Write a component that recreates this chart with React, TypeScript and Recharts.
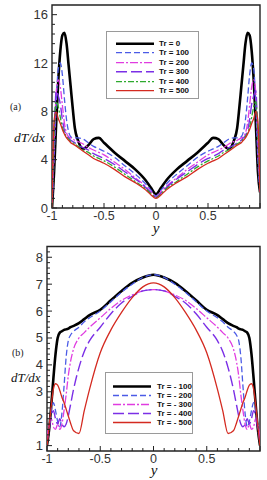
import React from 'react';
import { LineChart, Line, XAxis, YAxis, ReferenceArea, Legend } from 'recharts';

// ---------- Panel (a) ----------
const XA = [
  -1, -0.98, -0.96, -0.94, -0.92, -0.9, -0.88, -0.86, -0.84, -0.82, -0.8, -0.78, -0.75, -0.7, -0.65, -0.6, -0.55, -0.5, -0.4, -0.3, -0.2, -0.1, -0.05, 0,
  0.05, 0.1, 0.2, 0.3, 0.4, 0.5, 0.55, 0.6, 0.65, 0.7, 0.75, 0.78, 0.8, 0.82, 0.84, 0.86, 0.88, 0.9, 0.92, 0.94, 0.96, 0.98, 1,
];
const A_TR0 = [
  0, 3, 7, 10.5, 13, 14.3, 14.5, 13.6, 11.8, 10, 8.2, 6.6, 5.6, 4.9, 5.2, 5.7, 5.8, 5.4, 4.6, 3.9, 3.2, 2.3, 1.7, 1.15,
  1.7, 2.3, 3.2, 3.9, 4.6, 5.4, 5.8, 5.7, 5.2, 4.9, 5.6, 6.6, 8.2, 10, 11.8, 13.6, 14.5, 14.3, 13, 10.5, 7, 3, 1.3,
];
const A_TR100 = [
  0, 4, 8.5, 11.5, 12, 11, 9, 7.3, 6.3, 5.9, 5.8, 5.8, 5.8, 5.7, 5.4, 5.1, 4.9, 4.7, 4.2, 3.5, 2.8, 2.0, 1.5, 1.0,
  1.5, 2.0, 2.8, 3.5, 4.2, 4.7, 4.9, 5.1, 5.4, 5.7, 5.8, 5.8, 5.8, 5.9, 6.3, 7.3, 9, 11, 12, 11.5, 8.5, 4, 1.3,
];
const A_TR200 = [
  0, 5, 9.5, 10.6, 10, 8.5, 7, 6.2, 5.9, 5.8, 5.7, 5.6, 5.5, 5.3, 5.0, 4.8, 4.6, 4.4, 3.8, 3.2, 2.5, 1.8, 1.35, 0.95,
  1.35, 1.8, 2.5, 3.2, 3.8, 4.4, 4.6, 4.8, 5.0, 5.3, 5.5, 5.6, 5.7, 5.8, 5.9, 6.2, 7, 8.5, 10, 10.6, 9.5, 5, 1.3,
];
const A_TR300 = [
  0, 5.5, 9.7, 9.3, 8.6, 7.3, 6.4, 6.0, 5.8, 5.6, 5.5, 5.4, 5.2, 5.0, 4.8, 4.5, 4.3, 4.1, 3.6, 3.0, 2.4, 1.7, 1.25, 0.9,
  1.25, 1.7, 2.4, 3.0, 3.6, 4.1, 4.3, 4.5, 4.8, 5.0, 5.2, 5.4, 5.5, 5.6, 5.8, 6.0, 6.4, 7.3, 8.6, 9.3, 9.7, 5.5, 1.3,
];
const A_TR400 = [
  0, 6, 8.8, 8.4, 7.5, 6.7, 6.2, 5.9, 5.7, 5.5, 5.4, 5.3, 5.1, 4.8, 4.6, 4.3, 4.1, 3.9, 3.4, 2.8, 2.2, 1.6, 1.2, 0.85,
  1.2, 1.6, 2.2, 2.8, 3.4, 3.9, 4.1, 4.3, 4.6, 4.8, 5.1, 5.3, 5.4, 5.5, 5.7, 5.9, 6.2, 6.7, 7.5, 8.4, 8.8, 6, 1.3,
];
const A_TR500 = [
  0, 7.2, 8.0, 7.4, 7.0, 6.5, 6.1, 5.8, 5.6, 5.4, 5.3, 5.2, 5.0, 4.7, 4.4, 4.1, 3.9, 3.7, 3.2, 2.6, 2.1, 1.5, 1.1, 0.8,
  1.1, 1.5, 2.1, 2.6, 3.2, 3.7, 3.9, 4.1, 4.4, 4.7, 5.0, 5.2, 5.3, 5.4, 5.6, 5.8, 6.1, 6.5, 7.0, 7.4, 8.0, 7.2, 1.3,
];
const A_LABELS = ['Tr = 0', 'Tr = 100', 'Tr = 200', 'Tr = 300', 'Tr = 400', 'Tr = 500'];
const A_X_TICKS = [-1, -0.9, -0.8, -0.7, -0.6, -0.5, -0.4, -0.3, -0.2, -0.1, 0, 0.1, 0.2, 0.3, 0.4, 0.5, 0.6, 0.7, 0.8, 0.9, 1];
const A_X_LABELS = [-1, -0.5, 0, 0.5];
const A_Y_TICKS = [0, 0.8, 1.6, 2.4, 3.2, 4, 4.8, 5.6, 6.4, 7.2, 8, 8.8, 9.6, 10.4, 11.2, 12, 12.8, 13.6, 14.4, 15.2, 16];
const A_Y_LABELS = [0, 4, 8, 12, 16];

// ---------- Panel (b) ----------
const XB = [
  -1, -0.98, -0.96, -0.94, -0.92, -0.9, -0.88, -0.86, -0.84, -0.82, -0.8, -0.78, -0.75, -0.7, -0.65, -0.6, -0.5, -0.4, -0.3, -0.2, -0.1, 0,
  0.1, 0.2, 0.3, 0.4, 0.5, 0.6, 0.65, 0.7, 0.75, 0.78, 0.8, 0.82, 0.84, 0.86, 0.88, 0.9, 0.92, 0.94, 0.96, 0.98, 1,
];
const B_TR100 = [
  1.0, 1.6, 2.5, 3.5, 4.4, 5.0, 5.2, 5.25, 5.3, 5.32, 5.35, 5.4, 5.45, 5.55, 5.7, 5.85, 6.05, 6.4, 6.75, 7.05, 7.25, 7.35,
  7.25, 7.05, 6.75, 6.4, 6.05, 5.85, 5.7, 5.55, 5.45, 5.4, 5.35, 5.32, 5.3, 5.25, 5.2, 5.0, 4.4, 3.5, 2.5, 1.6, 1.0,
];
const B_TR200 = [
  1.2, 1.7, 2.3, 2.6, 2.3, 1.9, 1.7, 2.2, 3.2, 4.3, 4.9, 5.1, 5.25, 5.4, 5.6, 5.75, 6.0, 6.35, 6.7, 7.0, 7.25, 7.35,
  7.25, 7.0, 6.7, 6.35, 6.0, 5.75, 5.6, 5.4, 5.25, 5.1, 4.9, 4.3, 3.2, 2.2, 1.7, 1.9, 2.3, 2.6, 2.3, 1.7, 1.2,
];
const B_TR300 = [
  1.3, 1.8, 2.0, 1.7, 1.6, 1.8, 1.6, 1.8, 2.3, 2.9, 3.6, 4.1, 4.6, 5.0, 5.2, 5.4, 5.75, 6.1, 6.4, 6.6, 6.75, 6.8,
  6.75, 6.6, 6.4, 6.1, 5.75, 5.4, 5.2, 5.0, 4.6, 4.1, 3.6, 2.9, 2.3, 1.8, 1.6, 1.8, 1.6, 1.7, 2.0, 1.8, 1.3,
];
const B_TR400 = [
  1.1, 1.6, 2.1, 2.3, 2.0, 1.8, 2.0, 1.8, 1.7, 1.8, 2.1, 2.5, 3.1, 3.9, 4.5, 4.9, 5.4, 5.9, 6.3, 6.55, 6.75, 6.8,
  6.75, 6.55, 6.3, 5.9, 5.4, 4.9, 4.5, 3.9, 3.1, 2.5, 2.1, 1.8, 1.7, 1.8, 2.0, 1.8, 2.0, 2.3, 2.1, 1.6, 1.1,
];
const B_TR500 = [
  1.0, 1.7, 2.5, 3.1, 3.3, 3.25, 3.05, 2.8, 2.6, 2.35, 2.1, 1.85, 1.55, 1.45, 2.3, 3.1, 4.45, 5.3, 5.95, 6.5, 6.9, 7.05,
  6.9, 6.5, 5.95, 5.3, 4.45, 3.1, 2.3, 1.45, 1.55, 1.85, 2.1, 2.35, 2.6, 2.8, 3.05, 3.25, 3.3, 3.1, 2.5, 1.7, 1.0,
];
const B_LABELS = ['Tr = - 100', 'Tr = - 200', 'Tr = - 300', 'Tr = - 400', 'Tr = - 500'];
const B_X_TICKS = A_X_TICKS;
const B_X_LABELS = [-1, -0.5, 0, 0.5];
const B_Y_TICKS = [1, 1.2, 1.4, 1.6, 1.8, 2, 2.2, 2.4, 2.6, 2.8, 3, 3.2, 3.4, 3.6, 3.8, 4, 4.2, 4.4, 4.6, 4.8, 5, 5.2, 5.4, 5.6, 5.8, 6, 6.2, 6.4, 6.6, 6.8, 7, 7.2, 7.4, 7.6, 7.8, 8, 8.2];
const B_Y_LABELS = [1, 2, 3, 4, 5, 6, 7, 8];

// ---------- styles ----------
const STYLES = [
  { color: '#000000', width: 2.6, dash: undefined },
  { color: '#4b5be6', width: 1.3, dash: '6 3' },
  { color: '#e03ce0', width: 1.3, dash: '8 2 2 2' },
  { color: '#7b2fe6', width: 1.4, dash: '11 4' },
  { color: '#2eaa2e', width: 1.3, dash: '6 2 2 2' },
  { color: '#d42a20', width: 1.3, dash: undefined },
];
const STYLES_B = [STYLES[0], STYLES[1], STYLES[2], STYLES[3], STYLES[5]];

const AX = '#222';
const SANS = '"Liberation Sans", Arial, sans-serif';
const SERIF = '"Liberation Serif", "Times New Roman", serif';

const isIn = (arr: number[], v: number) => arr.some((m) => Math.abs(m - v) < 1e-6);

const makeRows = (xs: number[], series: number[][]) =>
  xs.map((x, i) => {
    const row: any = { x };
    series.forEach((s, k) => {
      row['s' + k] = s[i];
    });
    return row;
  });

const XTick = (props: any) => {
  const { x, y, payload, majors, labels, dy } = props;
  const v = payload.value;
  const major = isIn(majors, v);
  return (
    <g>
      <line x1={x} x2={x} y1={y} y2={y - (major ? 5 : 3)} stroke={AX} strokeWidth={1} />
      {isIn(labels, v) && (
        <text x={x} y={y + dy} textAnchor="middle" fontSize={12.5} fontFamily={SANS} fill="#333">
          {String(v)}
        </text>
      )}
    </g>
  );
};

const YTick = (props: any) => {
  const { x, y, payload, labels, dx } = props;
  const v = payload.value;
  const major = isIn(labels, v);
  return (
    <g>
      <line x1={x} x2={x + (major ? 5 : 3)} y1={y} y2={y} stroke={AX} strokeWidth={1} />
      {major && (
        <text x={x - dx} y={y + 4.5} textAnchor="end" fontSize={13} fontFamily={SANS} fill="#333">
          {String(v)}
        </text>
      )}
    </g>
  );
};

const LegendBox = ({ labels, styles, w, h, padTop, padLeft, rowH, lineLen, gap }: any) => (
  <div
    style={{
      width: w,
      height: h,
      boxSizing: 'border-box',
      border: '1px solid #9a9a9a',
      background: '#fff',
      paddingTop: padTop,
      paddingLeft: padLeft,
    }}
  >
    {labels.map((lab: string, i: number) => (
      <div key={lab} style={{ display: 'flex', alignItems: 'center', height: rowH }}>
        <svg width={lineLen} height={rowH} style={{ display: 'block' }}>
          <line
            x1={0}
            x2={lineLen}
            y1={rowH / 2}
            y2={rowH / 2}
            stroke={styles[i].color}
            strokeWidth={styles[i].width}
            strokeDasharray={styles[i].dash}
          />
        </svg>
        <span
          style={{
            marginLeft: gap,
            fontFamily: SANS,
            fontWeight: 700,
            fontSize: 8,
            color: '#111',
            lineHeight: rowH + 'px',
            whiteSpace: 'pre',
          }}
        >
          {lab}
        </span>
      </div>
    ))}
  </div>
);

const dataA = makeRows(XA, [A_TR0, A_TR100, A_TR200, A_TR300, A_TR400, A_TR500]);
const dataB = makeRows(XB, [B_TR100, B_TR200, B_TR300, B_TR400, B_TR500]);

export default function App() {
  return (
    <div style={{ position: 'absolute', left: 0, top: 0, width: 267, height: 480, background: '#fff', overflow: 'hidden' }}>
      {/* Panel (a) */}
      <div style={{ position: 'absolute', left: 0, top: 0 }}>
        <LineChart width={267} height={240} data={dataA} margin={{ top: 5, right: 7, left: 22, bottom: 12 }}>
          <XAxis
            dataKey="x"
            type="number"
            domain={[-1, 1]}
            ticks={A_X_TICKS}
            interval={0}
            axisLine={false}
            tickLine={false}
            tickSize={0}
            tickMargin={0}
            height={20}
            allowDataOverflow
            tick={(p: any) => <XTick {...p} majors={[-1, -0.5, 0, 0.5, 1]} labels={A_X_LABELS} dy={12} />}
          />
          <YAxis
            type="number"
            domain={[0, 16.8]}
            ticks={A_Y_TICKS}
            interval={0}
            axisLine={false}
            tickLine={false}
            tickSize={0}
            tickMargin={0}
            width={30}
            allowDataOverflow
            tick={(p: any) => <YTick {...p} labels={A_Y_LABELS} dx={4} />}
          />
          <ReferenceArea x1={-1} x2={1} y1={0} y2={16.8} fill="none" stroke={AX} strokeWidth={1.4} />
          {STYLES.map((s, k) => (
            <Line
              key={k}
              dataKey={'s' + k}
              name={A_LABELS[k]}
              type="monotone"
              stroke={s.color}
              strokeWidth={s.width}
              strokeDasharray={s.dash}
              dot={false}
              isAnimationActive={false}
            />
          ))}
          <Legend
            layout="horizontal"
            verticalAlign="middle"
            align="center"
            wrapperStyle={{ left: 106, top: 31, width: 93, height: 68 }}
            content={() => (
              <LegendBox labels={A_LABELS} styles={STYLES} w={93} h={68} padTop={7} padLeft={9} rowH={9.4} lineLen={38} gap={5} />
            )}
          />
        </LineChart>
        <svg width={267} height={240} style={{ position: 'absolute', left: 0, top: 0, pointerEvents: 'none' }}>
          <text x={10} y={110} fontSize={10} fontFamily={SERIF} fill="#222">(a)</text>
          <text x={14} y={142} fontSize={13.5} fontFamily={SERIF} fontStyle="italic" fill="#111">dT/dx</text>
          <text x={156} y={233} textAnchor="middle" fontSize={15} fontFamily={SERIF} fontStyle="italic" fill="#111">y</text>
        </svg>
      </div>

      {/* Panel (b) */}
      <div style={{ position: 'absolute', left: 0, top: 240 }}>
        <LineChart width={267} height={240} data={dataB} margin={{ top: 6.5, right: 7, left: 17, bottom: 9 }}>
          <XAxis
            dataKey="x"
            type="number"
            domain={[-1, 1]}
            ticks={B_X_TICKS}
            interval={0}
            axisLine={false}
            tickLine={false}
            tickSize={0}
            tickMargin={0}
            height={20}
            allowDataOverflow
            tick={(p: any) => <XTick {...p} majors={[-1, -0.5, 0, 0.5, 1]} labels={B_X_LABELS} dy={12} />}
          />
          <YAxis
            type="number"
            domain={[0.8, 8.4]}
            ticks={B_Y_TICKS}
            interval={0}
            axisLine={false}
            tickLine={false}
            tickSize={0}
            tickMargin={0}
            width={30}
            allowDataOverflow
            tick={(p: any) => <YTick {...p} labels={B_Y_LABELS} dx={4} />}
          />
          <ReferenceArea x1={-1} x2={1} y1={0.8} y2={8.4} fill="none" stroke={AX} strokeWidth={1.4} />
          {STYLES_B.map((s, k) => (
            <Line
              key={k}
              dataKey={'s' + k}
              name={B_LABELS[k]}
              type="monotone"
              stroke={s.color}
              strokeWidth={s.width}
              strokeDasharray={s.dash}
              dot={false}
              isAnimationActive={false}
            />
          ))}
          <Legend
            layout="horizontal"
            verticalAlign="middle"
            align="center"
            wrapperStyle={{ left: 105, top: 132, width: 88, height: 62 }}
            content={() => (
              <LegendBox labels={B_LABELS} styles={STYLES_B} w={88} h={62} padTop={9} padLeft={7} rowH={9} lineLen={38} gap={6} />
            )}
          />
        </LineChart>
        <svg width={267} height={240} style={{ position: 'absolute', left: 0, top: 0, pointerEvents: 'none' }}>
          <text x={12} y={116} fontSize={10} fontFamily={SERIF} fill="#222">(b)</text>
          <text x={11} y={142} fontSize={13} fontFamily={SERIF} fontStyle="italic" fill="#111">dT/dx</text>
          <text x={154} y={235} textAnchor="middle" fontSize={15} fontFamily={SERIF} fontStyle="italic" fill="#111">y</text>
        </svg>
      </div>
    </div>
  );
}
